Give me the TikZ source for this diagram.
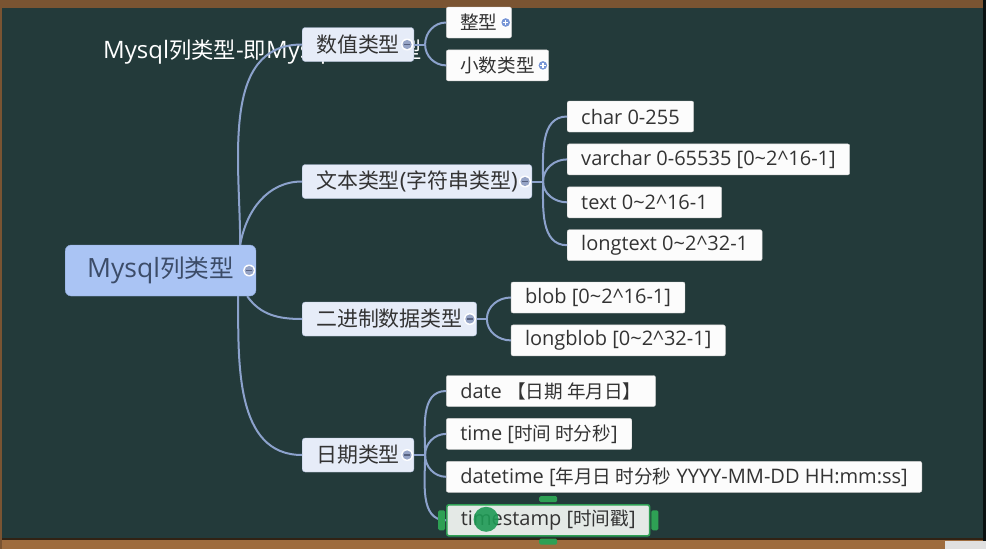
\documentclass[tikz,border=0pt]{standalone}
\usepackage{fontspec}
\setmainfont{Open Sans}
\newfontfamily\cjk{Noto Sans CJK SC}[Scale=0.93]
\usepackage{xcolor}
\usetikzlibrary{positioning}

\definecolor{board}{RGB}{35,58,58}
\definecolor{woodtop}{RGB}{122,84,50}
\definecolor{woodbot}{RGB}{158,108,62}
\definecolor{rootfill}{RGB}{170,196,244}
\definecolor{rootline}{RGB}{140,166,214}
\definecolor{rootink}{RGB}{60,76,104}
\definecolor{brfill}{RGB}{230,236,248}
\definecolor{brline}{RGB}{180,194,222}
\definecolor{lffill}{RGB}{252,252,252}
\definecolor{lfline}{RGB}{205,205,205}
\definecolor{ink}{RGB}{51,51,51}
\definecolor{wire}{RGB}{140,162,204}
\definecolor{foldgray}{RGB}{150,164,198}
\definecolor{foldbar}{RGB}{88,98,128}
\definecolor{foldblue}{RGB}{120,150,214}
\definecolor{selgreen}{RGB}{46,160,84}
\definecolor{selfill}{RGB}{228,233,230}
\definecolor{dotgreen}{RGB}{30,154,85}

\tikzset{
  minusmark/.pic={\fill[white] (0,0) circle (6pt);
    \fill[foldgray] (0,0) circle (4.6pt);
    \draw[foldbar, line width=1.5pt] (-3pt,0) -- (3pt,0);},
  plusmark/.pic={\fill[white] (0,0) circle (5.5pt);
    \fill[foldblue] (0,0) circle (4.3pt);
    \draw[white, line width=1.3pt] (-2.6pt,0) -- (2.6pt,0) (0,-2.6pt) -- (0,2.6pt);}
}

\begin{document}
\begin{tikzpicture}[x=1pt, y=1pt,
  rt/.style={draw=rootline, fill=rootfill, text=rootink, rounded corners=6pt,
             font=\fontsize{26.5}{30}\selectfont, inner xsep=22pt, minimum height=51pt},
  br/.style={draw=brline, fill=brfill, text=ink, rounded corners=3pt, anchor=west,
             font=\fontsize{22.5}{26}\selectfont, inner xsep=14pt, minimum height=34pt},
  lf/.style={draw=lfline, fill=lffill, text=ink, rounded corners=2pt,
             font=\fontsize{20}{24}\selectfont, inner xsep=14pt, minimum height=31pt},
  sel/.style={draw=selgreen, line width=1.6pt, fill=selfill},
  wire/.style={draw=wire, line width=2pt},
  tab/.style={fill=selgreen, rounded corners=1.5pt},
  node distance=11.5pt and 33pt]
% board and frame
\useasboundingbox (0,0) rectangle (986,-549);
\fill[board] (0,0) rectangle (986,-549);
\fill[woodtop] (0,0) rectangle (986,-8);
\fill[woodbot] (0,-539) rectangle (986,-549);
\fill[black!60!woodtop] (0,-538) rectangle (986,-540);
\fill[woodtop] (0,0) rectangle (2,-549);
\fill[black!70!board] (983,0) rectangle (986,-549);
\fill[black!12] (945,-541) rectangle (986,-549);
% title, partly hidden
\node[white, font=\fontsize{24}{28}\selectfont, inner sep=0pt, anchor=west] (ttl) at (103,-52)
  {Mysql{\cjk 列类型}-{\cjk 即}Mysql{\cjk 数据类型}};
% root and branches
\node[rt, anchor=west] (root) at (65,-270.5) {Mysql{\cjk 列类型}};
\node[br] (num) at (302,-44.5) {{\cjk 数值类型}};
\node[br] (txt) at (302,-181.5) {{\cjk 文本类型}({\cjk 字符串类型})};
\node[br] (bin) at (302,-319) {{\cjk 二进制数据类型}};
\node[br] (dat) at (302,-455) {{\cjk 日期类型}};
% leaves
\node[lf, right=32pt of num.east, yshift=22pt] (int) {{\cjk 整型}};
\node[lf, below=11.5pt of int.south west, anchor=north west] (dec) {{\cjk 小数类型}};
\node[lf, right=35pt of txt.east, yshift=65pt] (char) {char 0-255};
\node[lf, below=of char.south west, anchor=north west] (varchar)
  {varchar 0-65535 [0\textasciitilde 2\textasciicircum 16-1]};
\node[lf, below=of varchar.south west, anchor=north west] (text)
  {text 0\textasciitilde 2\textasciicircum 16-1};
\node[lf, below=of text.south west, anchor=north west] (longtext)
  {longtext 0\textasciitilde 2\textasciicircum 32-1};
\node[lf, right=34pt of bin.east, yshift=21.5pt] (blob)
  {blob [0\textasciitilde 2\textasciicircum 16-1]};
\node[lf, below=of blob.south west, anchor=north west] (longblob)
  {longblob [0\textasciitilde 2\textasciicircum 32-1]};
\node[lf, right=32pt of dat.east, yshift=64pt] (date) {date {\cjk 【日期 年月日】}};
\node[lf, below=of date.south west, anchor=north west] (time) {time [{\cjk 时间 时分秒}]};
\node[lf, below=of time.south west, anchor=north west] (datetime)
  {datetime [{\cjk 年月日 时分秒} YYYY-MM-DD HH:mm:ss]};
\node[lf, sel, below=of datetime.south west, anchor=north west] (tstamp)
  {timestamp [{\cjk 时间戳}]};
% root wires
\draw[wire] ([xshift=-16pt]root.north east) to[out=90, in=180] (num.west);
\draw[wire] ([xshift=-16pt]root.north east) to[out=80, in=180] (txt.west);
\draw[wire] ([xshift=-9pt]root.south east) to[out=-55, in=180] (bin.west);
\draw[wire] ([xshift=-18pt]root.south east) to[out=-90, in=180] (dat.west);
% fans
\coordinate[right=11pt of num.east] (numfork);
\coordinate[right=11pt of txt.east] (txtfork);
\coordinate[right=10pt of bin.east] (binfork);
\coordinate[right=11pt of dat.east] (datfork);
\draw[wire] (num.east) -- (numfork) (txt.east) -- (txtfork)
  (bin.east) -- (binfork) (dat.east) -- (datfork);
\draw[wire] (numfork) to[out=90, in=180] (int.west);
\draw[wire] (numfork) to[out=-90, in=180] (dec.west);
\foreach \lf in {char, varchar}
  \draw[wire] (txtfork) to[out=90, in=180] (\lf.west);
\foreach \lf in {text, longtext}
  \draw[wire] (txtfork) to[out=-90, in=180] (\lf.west);
\draw[wire] (binfork) to[out=90, in=180] (blob.west);
\draw[wire] (binfork) to[out=-90, in=180] (longblob.west);
\foreach \lf in {date, time}
  \draw[wire] (datfork) to[out=90, in=180] (\lf.west);
\foreach \lf in {datetime, tstamp}
  \draw[wire] (datfork) to[out=-90, in=180] (\lf.west);
% fold marks
\pic at ([xshift=-7pt]root.east) {minusmark};
\pic at ([xshift=-7pt]num.east) {minusmark};
\pic at ([xshift=-7pt]txt.east) {minusmark};
\pic at ([xshift=-7pt]bin.east) {minusmark};
\pic at ([xshift=-7pt]dat.east) {minusmark};
\pic at ([xshift=-6pt]int.east) {plusmark};
\pic at ([xshift=-6pt]dec.east) {plusmark};
% selection handles
\fill[tab] ([xshift=-9pt, yshift=2pt]tstamp.north) rectangle ([xshift=9pt, yshift=8pt]tstamp.north);
\fill[tab] ([xshift=-9pt, yshift=-2pt]tstamp.south) rectangle ([xshift=9pt, yshift=-8pt]tstamp.south);
\fill[tab] ([xshift=-8pt, yshift=-10pt]tstamp.west) rectangle ([xshift=-1pt, yshift=10pt]tstamp.west);
\fill[tab] ([xshift=1pt, yshift=-10pt]tstamp.east) rectangle ([xshift=8pt, yshift=10pt]tstamp.east);
\fill[dotgreen, opacity=0.9] ([xshift=40pt, yshift=1pt]tstamp.west) circle (12.5pt);
\end{tikzpicture}
\end{document}
